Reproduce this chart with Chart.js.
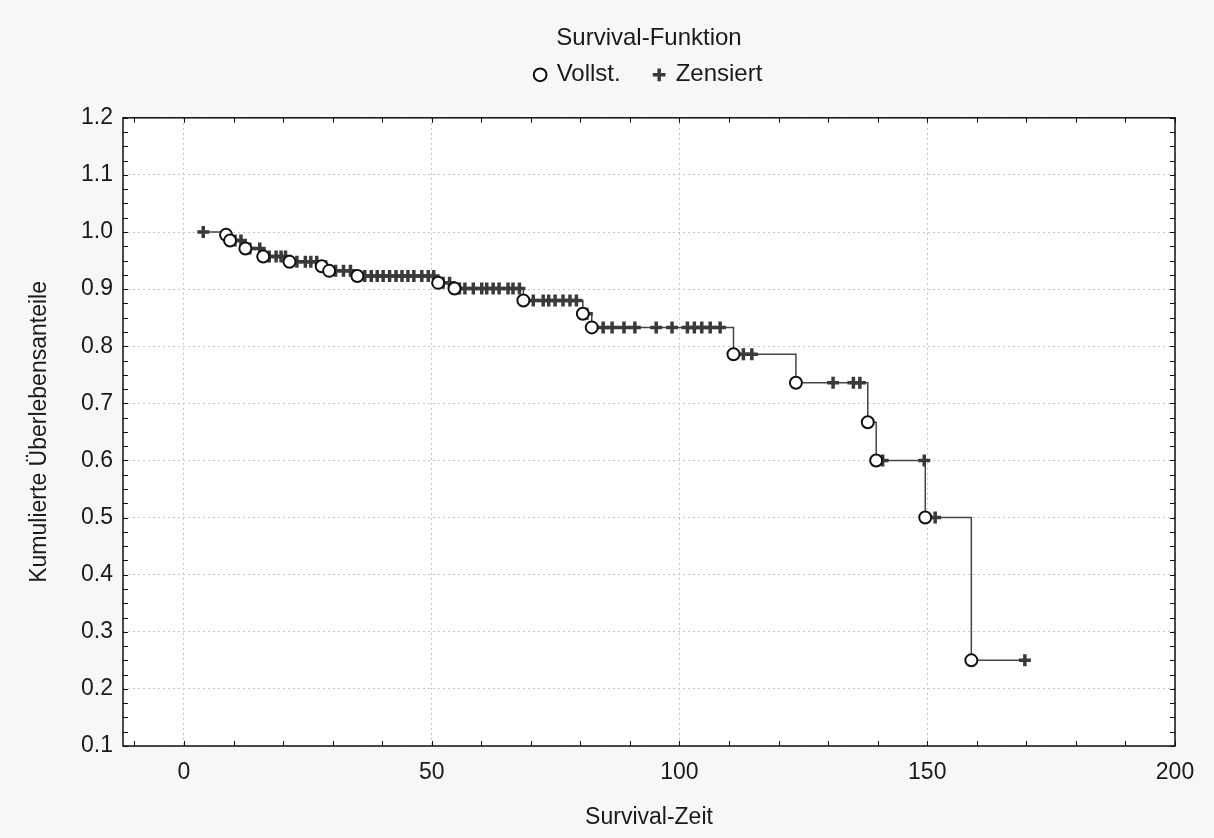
<!DOCTYPE html>
<html>
<head>
<meta charset="utf-8">
<script src="https://cdn.jsdelivr.net/npm/chart.js@4"></script>
<style>
  body { margin: 0; background: #f7f7f7; }
  canvas { display: block; }
</style>
</head>
<body>
<canvas id="survChart" width="1214" height="838"></canvas>
<script>
// complete (event) times and the survival value right after each event
const eventTimes = [8.5, 9.3, 12.4, 16.0, 21.3, 27.8, 29.3, 35.0, 51.3, 54.6, 68.5, 80.5, 82.3, 110.9, 123.5, 138.0, 139.7, 149.6, 158.9];
const eventSurv  = [0.995, 0.985, 0.971, 0.957, 0.948, 0.940, 0.932, 0.923, 0.911, 0.901, 0.880, 0.857, 0.833, 0.786, 0.736, 0.667, 0.600, 0.500, 0.250];

// censored times and the level of the curve at each
const censTimes = [3.9, 10.3, 11.5, 13.3, 15.3, 17.2, 18.6, 19.6, 20.5, 22.8, 24.5, 25.6, 26.8, 28.6,
  30.6, 32.2, 33.6, 36.5, 37.8, 39.0, 40.2, 41.5, 42.8, 44.0, 45.2, 46.4, 48.0, 49.3, 50.4,
  52.3, 53.6, 55.6, 56.7, 58.4, 60.1, 61.1, 62.4, 63.6, 65.4, 66.4, 67.7,
  70.5, 72.5, 73.6, 74.9, 76.5, 77.9, 79.2, 81.3,
  84.6, 86.4, 88.8, 91.0, 95.3, 98.5, 101.6, 103.0, 104.5, 106.2, 108.2,
  112.9, 114.6, 131.0, 135.1, 136.4, 141.0, 149.4, 151.6, 169.7];
const censSurv = [1.0, 0.985, 0.985, 0.971, 0.971, 0.957, 0.957, 0.957, 0.957, 0.948, 0.948, 0.948, 0.948, 0.940,
  0.932, 0.932, 0.932, 0.923, 0.923, 0.923, 0.923, 0.923, 0.923, 0.923, 0.923, 0.923, 0.923, 0.923, 0.923,
  0.911, 0.911, 0.901, 0.901, 0.901, 0.901, 0.901, 0.901, 0.901, 0.901, 0.901, 0.901,
  0.880, 0.880, 0.880, 0.880, 0.880, 0.880, 0.880, 0.857,
  0.833, 0.833, 0.833, 0.833, 0.833, 0.833, 0.833, 0.833, 0.833, 0.833, 0.833,
  0.786, 0.786, 0.736, 0.736, 0.736, 0.600, 0.600, 0.500, 0.250];

const xTicks = [0, 50, 100, 150, 200];
const yTicks = [0.1, 0.2, 0.3, 0.4, 0.5, 0.6, 0.7, 0.8, 0.9, 1.0, 1.1, 1.2];

const FONT = "'Liberation Sans', Arial, sans-serif";
const TXT = '#1a1a1a';

const eventPts = eventTimes.map((t, i) => ({ x: t, y: eventSurv[i] }));
const censPts = censTimes.map((t, i) => ({ x: t, y: censSurv[i], c: 1 }));
// step line through all observations, censored first when times tie
const curvePts = eventPts.map(p => ({ x: p.x, y: p.y, c: 0 })).concat(censPts)
  .sort((a, b) => a.x - b.x || b.c - a.c);

// white plot area, grey surround, box frame and small inner ticks
const frame = {
  id: 'frame',
  beforeDraw(chart) {
    const { ctx, chartArea: a } = chart;
    ctx.save();
    ctx.fillStyle = '#f7f7f7';
    ctx.fillRect(0, 0, chart.width, chart.height);
    ctx.fillStyle = '#ffffff';
    ctx.fillRect(a.left, a.top, a.right - a.left, a.bottom - a.top);
    ctx.restore();
  },
  afterDraw(chart) {
    const { ctx, chartArea: a, scales } = chart;
    ctx.save();
    ctx.strokeStyle = '#111';
    ctx.lineWidth = 1.5;
    ctx.strokeRect(a.left, a.top, a.right - a.left, a.bottom - a.top);
    ctx.lineWidth = 1;
    ctx.beginPath();
    for (let v = -10; v <= 200; v += 10) {
      const px = Math.round(scales.x.getPixelForValue(v)) + 0.5;
      ctx.moveTo(px, a.bottom); ctx.lineTo(px, a.bottom - 5);
      ctx.moveTo(px, a.top); ctx.lineTo(px, a.top + 5);
    }
    for (let k = 4; k <= 48; k++) {
      const py = Math.round(scales.y.getPixelForValue(k * 0.025)) + 0.5;
      ctx.moveTo(a.left, py); ctx.lineTo(a.left + 5, py);
      ctx.moveTo(a.right, py); ctx.lineTo(a.right - 5, py);
    }
    ctx.stroke();
    ctx.restore();
  }
};

new Chart(document.getElementById('survChart'), {
  type: 'scatter',
  data: {
    datasets: [
      {
        label: 'curve',
        type: 'line',
        data: curvePts,
        stepped: true,
        borderColor: '#454545',
        borderWidth: 1.5,
        pointRadius: 0,
        fill: false,
        order: 3
      },
      {
        label: 'Vollst.',
        data: eventPts,
        pointStyle: 'circle',
        pointRadius: 6,
        pointBackgroundColor: '#ffffff',
        pointBorderColor: '#111111',
        pointBorderWidth: 2,
        backgroundColor: '#ffffff',
        borderColor: '#111111',
        borderWidth: 2,
        order: 1
      },
      {
        label: 'Zensiert',
        data: censPts,
        pointStyle: 'cross',
        pointRadius: 6,
        pointBorderColor: '#3a3a3a',
        pointBorderWidth: 3.5,
        borderColor: '#3a3a3a',
        borderWidth: 3,
        order: 2
      }
    ]
  },
  options: {
    responsive: false,
    animation: false,
    layout: { padding: { left: 14, right: 39, top: 0, bottom: 6 } },
    plugins: {
      title: {
        display: true,
        fullSize: false,
        text: 'Survival-Funktion',
        color: TXT,
        font: { family: FONT, size: 24, weight: 'normal' },
        padding: { top: 24, bottom: -24 }
      },
      legend: {
        display: true,
        fullSize: false,
        labels: {
          filter: item => item.text !== 'curve',
          usePointStyle: true,
          boxWidth: 9,
          boxHeight: 9,
          color: TXT,
          font: { family: FONT, size: 24 },
          padding: 34
        }
      },
      tooltip: { enabled: false }
    },
    scales: {
      x: {
        type: 'linear',
        min: -12.3,
        max: 200,
        afterBuildTicks: s => { s.ticks = xTicks.map(v => ({ value: v })); },
        afterFit: s => { s.height = 86; },
        ticks: { color: TXT, font: { family: FONT, size: 23 }, padding: 13 },
        grid: { color: '#c4c4c4', lineWidth: 1, drawTicks: false },
        border: { display: false, dash: [2, 3] },
        title: {
          display: true,
          text: 'Survival-Zeit',
          color: TXT,
          font: { family: FONT, size: 23 },
          padding: { top: 0, bottom: 1 }
        }
      },
      // empty band above the plot, only there to hold the gap under the legend
      xTop: {
        type: 'linear',
        axis: 'x',
        position: 'top',
        afterFit: s => { s.height = 21; },
        ticks: { display: false },
        grid: { display: false, drawTicks: false },
        border: { display: false }
      },
      y: {
        type: 'linear',
        min: 0.1,
        max: 1.2,
        afterBuildTicks: s => { s.ticks = yTicks.map(v => ({ value: v })); },
        afterFit: s => { s.width = 109; },
        ticks: { color: TXT, font: { family: FONT, size: 23 }, padding: 10, callback: v => v.toFixed(1) },
        grid: { color: '#c4c4c4', lineWidth: 1, drawTicks: false },
        border: { display: false, dash: [2, 3] },
        title: {
          display: true,
          text: 'Kumulierte Überlebensanteile',
          color: TXT,
          font: { family: FONT, size: 23 },
          padding: { top: 12, bottom: 0 }
        }
      }
    }
  },
  plugins: [frame]
});
</script>
</body>
</html>
